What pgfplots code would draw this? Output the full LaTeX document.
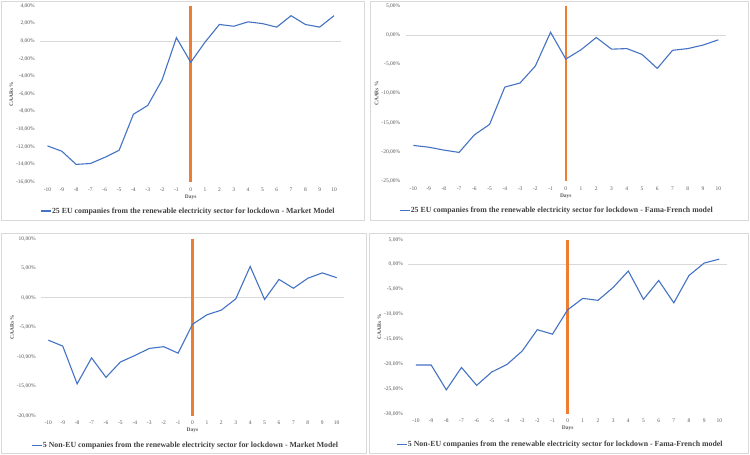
\documentclass[border=0pt]{standalone}
\usepackage{pgfplots}
\pgfplotsset{compat=1.18}
\usepackage{fontspec}
\setmainfont{Liberation Serif}
\definecolor{xlblue}{HTML}{4472C4}
\definecolor{xlorange}{HTML}{ED7D31}
\definecolor{xlgrid}{HTML}{D9D9D9}
\definecolor{xltext}{HTML}{595959}
\definecolor{xlleg}{HTML}{404040}

\pgfplotsset{
 panel/.style={
  scale only axis,
  anchor=south west,
  xmin=-10.5, xmax=10.5,
  xtick={-10,...,10},
  axis line style={draw=none},
  major tick length=0pt,
  tick style={draw=none},
  /pgf/number format/assume math mode=true,
  ticklabel style={font=\fontsize{5.5}{6}\selectfont, text=xltext},
  xticklabel style={yshift=-2bp},
  yticklabel style={xshift=-2bp},
  yticklabel={\pgfmathprintnumber[fixed,fixed zerofill,precision=2,use comma]{\tick}\%},
  xlabel={Days}, ylabel={CAARs \%},
  label style={font=\bfseries\fontsize{5.5}{6}\selectfont, text=xltext},
  xlabel style={at={(axis description cs:0.5,0)}, anchor=center, yshift=-15bp},
  ylabel style={at={(axis description cs:0,0.5)}, anchor=center, yshift=29bp},
  legend style={draw=none, fill=none, font=\bfseries\fontsize{7.85}{9}\selectfont, text=xlleg, anchor=center, inner sep=0pt,
    nodes={inner sep=0.5bp}},
  legend image code/.code={\draw[xlblue, line width=1.1bp] (0bp,0bp) -- (10bp,0bp);},
  clip=false,
 },
 cline/.style={xlblue, line width=1.1bp, mark=none},
 oline/.style={xlorange, line width=2.6bp, forget plot},
}

\begin{document}
\begin{tikzpicture}
\path[use as bounding box] (0bp,0bp) rectangle (750bp,455bp);
\fill[white] (0bp,0bp) rectangle (750bp,455bp);
\draw[xlgrid] (1bp,454bp) rectangle (364bp,235bp);
\draw[xlgrid] (370bp,454bp) rectangle (748bp,235bp);
\draw[xlgrid] (1bp,222bp) rectangle (366bp,2bp);
\draw[xlgrid] (369bp,222bp) rectangle (748bp,2bp);

% Panel 1
\begin{axis}[panel, at={(40.3bp,273bp)}, width=300.9bp, height=176bp,
  ymin=-16, ymax=4, ytick={-16,-14,...,4},
  legend style={at={(0.49,-0.165)}}]
\draw[xlgrid] (axis cs:-10.5,0) -- (axis cs:10.5,0);
\addplot[oline] coordinates {(0,4) (0,-16)};
\addplot[cline] coordinates {
(-10,-11.9) (-9,-12.5) (-8,-14.0) (-7,-13.9) (-6,-13.2) (-5,-12.4) (-4,-8.3) (-3,-7.3) (-2,-4.4) (-1,0.4)
(0,-2.4) (1,-0.1) (2,1.9) (3,1.7) (4,2.2) (5,2.0) (6,1.6) (7,2.9) (8,1.9) (9,1.6) (10,2.9)};
\addlegendentry{25 EU companies from the renewable electricity sector for lockdown - Market Model}
\end{axis}

% Panel 2
\begin{axis}[panel, at={(405.7bp,274bp)}, width=320.2bp, height=175bp,
  ymin=-25, ymax=5, ytick={-25,-20,...,5},
  legend style={at={(0.47,-0.17)}}]
\draw[xlgrid] (axis cs:-10.5,0) -- (axis cs:10.5,0);
\addplot[oline] coordinates {(0,5) (0,-25)};
\addplot[cline] coordinates {
(-10,-18.9) (-9,-19.2) (-8,-19.7) (-7,-20.1) (-6,-17.1) (-5,-15.3) (-4,-8.9) (-3,-8.2) (-2,-5.3) (-1,0.5)
(0,-4.1) (1,-2.5) (2,-0.4) (3,-2.4) (4,-2.3) (5,-3.3) (6,-5.7) (7,-2.6) (8,-2.3) (9,-1.7) (10,-0.8)};
\addlegendentry{25 EU companies from the renewable electricity sector for lockdown - Fama-French model}
\end{axis}

% Panel 3
\begin{axis}[panel, at={(41.1bp,39.3bp)}, width=302.8bp, height=177bp,
  ymin=-20, ymax=10, ytick={-20,-15,...,10},
  legend style={at={(0.475,-0.17)}}]
\draw[xlgrid] (axis cs:-10.5,0) -- (axis cs:10.5,0);
\addplot[oline] coordinates {(0,10) (0,-20)};
\addplot[cline] coordinates {
(-10,-7.2) (-9,-8.2) (-8,-14.6) (-7,-10.2) (-6,-13.5) (-5,-10.9) (-4,-9.8) (-3,-8.6) (-2,-8.3) (-1,-9.4)
(0,-4.5) (1,-2.9) (2,-2.1) (3,-0.2) (4,5.3) (5,-0.3) (6,3.1) (7,1.6) (8,3.3) (9,4.2) (10,3.4)};
\addlegendentry{5 Non-EU companies from the renewable electricity sector for lockdown - Market Model}
\end{axis}

% Panel 4
\begin{axis}[panel, at={(408.4bp,41.3bp)}, width=318.5bp, height=174bp,
  ymin=-30, ymax=5, ytick={-30,-25,...,5},
  legend style={at={(0.475,-0.178)}}]
\draw[xlgrid] (axis cs:-10.5,0) -- (axis cs:10.5,0);
\addplot[oline] coordinates {(0,5) (0,-30)};
\addplot[cline] coordinates {
(-10,-20.2) (-9,-20.2) (-8,-25.2) (-7,-20.7) (-6,-24.3) (-5,-21.6) (-4,-20.1) (-3,-17.4) (-2,-13.1) (-1,-14.0)
(0,-9.1) (1,-6.8) (2,-7.2) (3,-4.6) (4,-1.3) (5,-7.0) (6,-3.2) (7,-7.7) (8,-2.2) (9,0.3) (10,1.1)};
\addlegendentry{5 Non-EU companies from the renewable electricity sector for lockdown - Fama-French model}
\end{axis}
\end{tikzpicture}
\end{document}
